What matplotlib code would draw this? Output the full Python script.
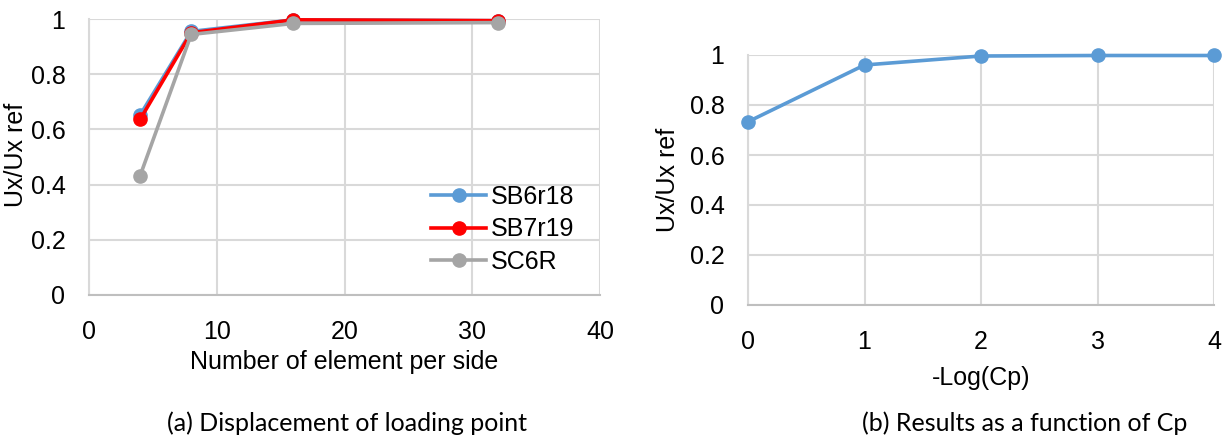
import matplotlib
matplotlib.use("Agg")
import matplotlib.pyplot as plt

# ---- data ----
n_elem = [4, 8, 16, 32]
sb6r18 = [0.652, 0.955, 0.997, 0.994]
sb7r19 = [0.636, 0.950, 0.997, 0.994]
sc6r = [0.432, 0.944, 0.984, 0.987]
series_names = ["SB6r18", "SB7r19", "SC6R"]

log_cp = [0, 1, 2, 3, 4]
ratio_cp = [0.733, 0.960, 0.996, 0.998, 0.998]

y_ticks = [0, 0.2, 0.4, 0.6, 0.8, 1]
y_ticklabels = ["0", "0.2", "0.4", "0.6", "0.8", "1"]
left_xticks = [0, 10, 20, 30, 40]
right_xticks = [0, 1, 2, 3, 4]

caption_a = "(a) Displacement of loading point"
caption_b = "(b) Results as a function of Cp"

# ---- style ----
W, H = 1226, 436
DPI = 100
plt.rcParams['font.family'] = ['Liberation Sans', 'DejaVu Sans']
FS = 18
CAP_FS = 18
GRID = '#D9D9D9'
BLUE = '#5B9BD5'
RED = '#FF0000'
GRAY = '#A5A5A5'

fig = plt.figure(figsize=(W / DPI, H / DPI), dpi=DPI)

def px_axes(x0, x1, ytop, ybot):
    return fig.add_axes([x0 / W, 1 - ybot / H, (x1 - x0) / W, (ybot - ytop) / H])

def style_axes(ax, xlim, xticks):
    ax.set_xlim(*xlim)
    ax.set_ylim(0, 1)
    ax.set_xticks(xticks)
    ax.set_xticklabels([str(t) for t in xticks])
    ax.set_yticks(y_ticks)
    ax.set_yticklabels(y_ticklabels)
    ax.grid(True, color=GRID, linewidth=1.5, zorder=0)
    ax.set_axisbelow(True)
    for s in ['top', 'right']:
        ax.spines[s].set_visible(False)
    ax.spines['left'].set_color(GRID)
    ax.spines['left'].set_linewidth(1.5)
    ax.spines['bottom'].set_color('#BFBFBF')
    ax.spines['bottom'].set_linewidth(1.5)
    ax.tick_params(axis='y', length=0, labelsize=FS, pad=17, colors='black')
    ax.tick_params(axis='x', length=0, labelsize=FS, pad=18, colors='black')

# ---- left chart ----
ax1 = px_axes(89, 600, 19, 295)
style_axes(ax1, (0, 40), left_xticks)
kw = dict(linewidth=2.6, marker='o', markersize=9.5, clip_on=False, zorder=3)
l1, = ax1.plot(n_elem, sb6r18, color=BLUE, label=series_names[0], **kw)
l2, = ax1.plot(n_elem, sb7r19, color=RED, label=series_names[1], **kw)
l3, = ax1.plot(n_elem, sc6r, color=GRAY, label=series_names[2], **kw)
fig.legend(handles=[l1, l2, l3], loc='upper left',
           bbox_to_anchor=(431 / W, 1 - 185 / H), frameon=False, fontsize=FS,
           handlelength=2.2, handletextpad=0.2, labelspacing=0.33, borderpad=0,
           borderaxespad=0)
fig.text(16 / W, 1 - 155 / H, "Ux/Ux ref", rotation=90, fontsize=FS,
         ha='center', va='center')
fig.text(344 / W, 1 - 362 / H, "Number of element per side", fontsize=FS,
         ha='center', va='center')
fig.text(347 / W, 1 - 431 / H, caption_a, fontsize=CAP_FS, ha='center',
         va='baseline', family='Lato')

# ---- right chart ----
ax2 = px_axes(748, 1214, 55, 305)
style_axes(ax2, (0, 4), right_xticks)
ax2.plot(log_cp, ratio_cp, color=BLUE, linewidth=2.6, marker='o',
         markersize=9.5, clip_on=False, zorder=3)
fig.text(668 / W, 1 - 180 / H, "Ux/Ux ref", rotation=90, fontsize=FS,
         ha='center', va='center')
fig.text(981 / W, 1 - 378 / H, "-Log(Cp)", fontsize=FS, ha='center', va='center')
fig.text(1025 / W, 1 - 431 / H, caption_b, fontsize=CAP_FS, ha='center',
         va='baseline', family='Lato')

fig.savefig("out.png", dpi=DPI)
